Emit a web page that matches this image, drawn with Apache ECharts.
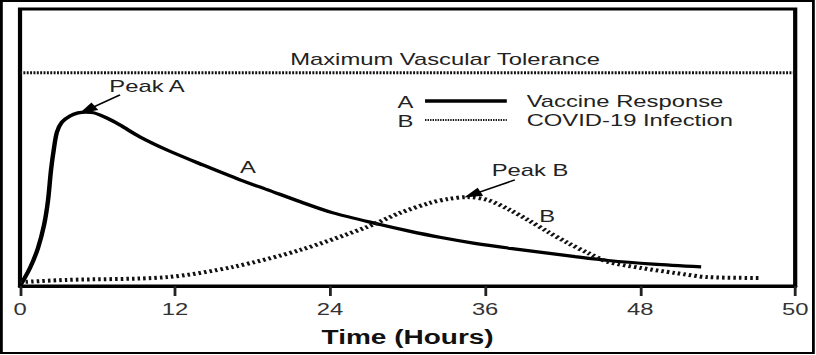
<!DOCTYPE html>
<html>
<head>
<meta charset="utf-8">
<script src="https://cdn.jsdelivr.net/npm/echarts@6/dist/echarts.min.js"></script>
<style>
  html, body { margin: 0; padding: 0; background: #fff; overflow: hidden; }
  #chart { width: 582.86px; height: 355px; transform: scaleX(1.4); transform-origin: 0 0; }
</style>
</head>
<body>
<div id="chart"></div>
<script>
// ---- data (x in displayed hour units, y in relative response units) ----
const xTickLabels = ['0', '12', '24', '36', '48', '50'];
const vaccineResponse = [
  [0, 0], [0.77, 6.5], [1.39, 13.7], [1.86, 22.0], [2.17, 31.0], [2.40, 41.9],
  [2.63, 49.8], [2.86, 55.6], [3.25, 59.2], [3.87, 61.4], [4.49, 62.5], [5.11, 62.8],
  [5.73, 62.5], [6.74, 60.6], [7.74, 58.1], [9.29, 53.8], [11.38, 49.1],
  [14.2, 43.6], [17.03, 38.3], [19.12, 34.8], [21.7, 30.4], [24.23, 26.4], [27.87, 22.2],
  [30.04, 19.9], [32.59, 17.5], [35.2, 15.4], [37.78, 13.7], [42.97, 10.6],
  [45.52, 9.2], [49.0, 7.9], [52.72, 6.9]
];
const covidInfection = [
  [0, 1.4], [3.64, 2.2], [11.38, 3.2], [16.49, 6.9], [21.68, 13.0], [26.86, 21.3],
  [29.42, 26.4], [31.74, 30.0], [33.13, 31.4], [34.6, 32.1], [36.23, 31.0],
  [37.93, 27.4], [39.33, 23.8], [40.88, 19.5], [42.42, 15.5], [43.97, 11.9],
  [45.52, 8.7], [48.08, 6.5], [50.71, 4.7], [53.26, 3.2], [57.37, 2.9]
];
const toleranceLevel = 77;
const peakAArrow = [[7.74, 69.0], [5.2, 63.6]];
const peakBArrow = [[38.3, 38.3], [35.0, 33.0]];
const annotations = [
  { text: 'Maximum Vascular Tolerance', coord: [32.9, 81.9] },
  { text: 'Peak A', coord: [9.83, 72.2] },
  { text: 'A', coord: [17.65, 43.0] },
  { text: 'Peak B', coord: [39.48, 41.9] },
  { text: 'B', coord: [40.8, 25.3] }
];

const FONT = '"Liberation Sans", Arial, sans-serif';
const TXT = '#222';

const chart = echarts.init(document.getElementById('chart'), null, { renderer: 'svg' });

chart.setOption({
  animation: false,
  backgroundColor: '#fff',
  textStyle: { fontFamily: FONT },
  grid: {
    left: 14.3, right: 15, top: 9, bottom: 69,
    show: true, borderColor: '#000', borderWidth: 3, backgroundColor: 'transparent'
  },
  legend: {
    orient: 'vertical',
    left: 303.6, top: 91.5, padding: 0,
    itemWidth: 58.6, itemHeight: 12, itemGap: 0,
    textStyle: { fontSize: 17, lineHeight: 19, color: TXT, fontFamily: FONT, padding: [0, 0, 0, 9] },
    data: [
      { name: 'Vaccine Response', icon: 'none' },
      { name: 'COVID-19 Infection', icon: 'none' }
    ]
  },
  xAxis: {
    type: 'value', min: 0, max: 60, interval: 12,
    axisLine: { show: true, lineStyle: { color: '#000', width: 3 } },
    axisTick: { show: true, inside: false, length: 10, lineStyle: { color: '#222', width: 2 } },
    splitLine: { show: false },
    axisLabel: {
      color: '#333', fontSize: 17, fontFamily: FONT, margin: 14,
      formatter: v => xTickLabels[Math.round(v / 12)]
    },
    name: 'Time (Hours)', nameLocation: 'middle', nameGap: 41,
    nameTextStyle: { fontSize: 20, fontWeight: 'bold', color: '#111', fontFamily: FONT }
  },
  yAxis: { type: 'value', min: 0, max: 100, show: false },
  series: [
    {
      name: 'Maximum Vascular Tolerance', type: 'line', symbol: 'none', silent: true,
      data: [[0, toleranceLevel], [60, toleranceLevel]],
      lineStyle: { color: '#111', width: 3, type: [1.4, 1] },
      markPoint: {
        symbol: 'circle', symbolSize: 1, itemStyle: { color: 'transparent' }, silent: true,
        label: { show: true, position: 'inside', fontSize: 17, color: TXT, fontFamily: FONT, formatter: p => p.name },
        data: annotations.map(a => ({ name: a.text, coord: a.coord }))
      },
      markLine: {
        silent: true, symbol: ['none', 'triangle'], symbolSize: [9, 13],
        label: { show: false },
        lineStyle: { color: '#000', width: 1.5, type: 'solid' },
        data: [
          [{ coord: peakAArrow[0] }, { coord: peakAArrow[1] }],
          [{ coord: peakBArrow[0] }, { coord: peakBArrow[1] }]
        ]
      }
    },
    {
      name: 'Vaccine Response', type: 'line', symbol: 'none', smooth: 0.3,
      data: vaccineResponse,
      lineStyle: { color: '#000', width: 3.2 }, itemStyle: { color: '#000' }
    },
    {
      name: 'COVID-19 Infection', type: 'line', symbol: 'none', smooth: 0.3,
      data: covidInfection,
      lineStyle: { color: '#111', width: 4, type: [1.8, 2.2] }, itemStyle: { color: '#111' }
    }
  ],
  graphic: [
    { type: 'rect', shape: { x: 1, y: 1, width: 580, height: 352 }, style: { fill: 'none', stroke: '#000', lineWidth: 2 }, silent: true },
    { type: 'text', left: 284, top: 93, style: { text: 'A', fontSize: 17, fill: TXT, fontFamily: FONT } },
    { type: 'text', left: 284, top: 112, style: { text: 'B', fontSize: 17, fill: TXT, fontFamily: FONT } },
    { type: 'line', shape: { x1: 303.6, y1: 101, x2: 362, y2: 101 }, style: { stroke: '#000', lineWidth: 3.3 } },
    { type: 'line', shape: { x1: 303.6, y1: 120, x2: 362, y2: 120 }, style: { stroke: '#111', lineWidth: 2, lineDash: [1, 0.8] } }
  ]
});
</script>
</body>
</html>
